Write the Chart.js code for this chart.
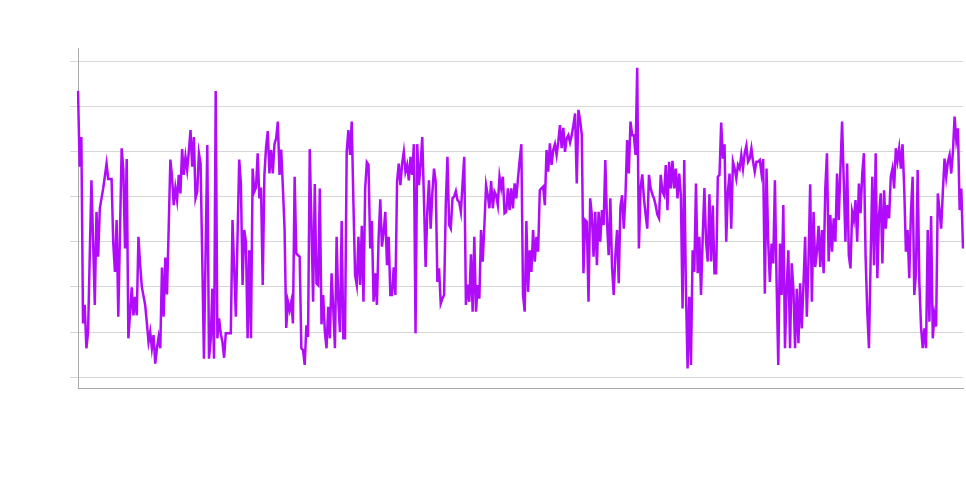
<!DOCTYPE html>
<html>
<head>
<meta charset="utf-8">
<script src="https://cdn.jsdelivr.net/npm/chart.js@4"></script>
<style>
html, body { margin: 0; padding: 0; background: #fff; }
</style>
</head>
<body>
<canvas id="grafico" width="966" height="504"></canvas>
<script>
// valores, de izquierda a derecha
var valores = [
	// tramo 1
	6.34, 4.66, 5.32, 1.19, 1.6, 0.64, 1.0, 2.7, 4.36, 3.0, 1.6, 3.66, 2.67, 3.74, 3.96, 4.18, 4.45, 4.73, 4.39, 4.39, 4.39,
	2.96, 2.33, 3.48, 1.34, 3.2, 5.07, 4.59, 2.85, 4.83, 0.86, 1.4, 1.99, 1.37, 1.78, 1.37, 3.11, 2.5, 2.0, 1.8, 1.6, 1.2,
	0.78, 1.0, 0.64, 0.93, 0.30, 0.64, 0.89, 0.64, 2.43, 1.34, 2.65, 1.83, 3.3, 4.82, 4.44, 3.81, 4.19, 3.92, 4.48, 4.07,
	5.05, 4.48, 4.88, 4.59, 5.0, 5.47, 4.66, 5.32, 3.96, 4.11, 4.96, 4.73, 2.6, 0.41, 2.8, 5.14, 0.41, 0.82, 1.96, 0.41,
	6.34, 0.86, 1.3, 0.97, 0.78, 0.43, 0.97, 0.97, 0.97, 0.97, 3.48, 2.4, 1.34, 3.1, 4.82, 4.29, 2.04, 3.26, 3.0, 0.86, 2.81,
	0.86, 4.62, 4.11,
	// tramo 2
	4.2, 4.96, 3.96, 4.2, 2.04, 4.48, 5.1, 5.45, 4.51, 5.03, 4.51, 5.16, 5.29, 5.66, 4.48, 5.04, 4.2, 3.29, 1.09, 1.67, 1.48,
	1.67, 1.19, 4.44, 2.74, 2.7, 2.67, 0.64, 0.6, 0.27, 1.15, 0.89, 5.05, 3.44, 1.67, 4.28, 2.08, 2.04, 4.18, 1.17, 1.82,
	1.0, 0.64, 1.56, 0.86, 2.3, 1.52, 0.64, 3.11, 1.67, 1.0, 3.46, 0.86, 0.86, 4.99, 5.47, 4.92, 5.66, 3.88, 2.26, 2.04,
	3.11, 2.04, 3.35, 1.67, 4.18, 4.76, 4.7, 2.85, 3.46, 1.67, 2.3, 1.6, 3.07, 3.94, 2.89, 3.22, 3.66, 2.48, 3.11, 1.82,
	1.82, 2.43, 1.82, 4.33, 4.73, 4.25, 4.73, 4.99, 4.55, 4.7, 4.36, 4.88, 4.48, 5.16, 0.97, 5.16, 4.25, 4.7, 5.32, 3.96,
	2.44, 3.66, 4.36, 3.29, 4.07,
	// tramo 3
	4.62, 4.33, 2.11, 2.41, 1.63, 1.74, 1.82, 3.81, 4.88, 3.37, 3.29, 3.96, 4.0, 4.12, 3.92, 3.88, 3.66, 4.3, 4.88, 1.6, 2.05,
	1.67, 2.72, 1.45, 3.11, 1.45, 2.04, 1.74, 3.26, 2.56, 3.37, 4.25, 4.03, 3.74, 4.34, 3.74, 4.11, 4.03, 3.81, 4.44, 4.19,
	4.44, 3.63, 3.66, 4.18, 3.7, 4.18, 3.74, 4.29, 3.96, 4.4, 4.8, 5.16, 1.82, 1.45, 3.46, 1.89, 2.81, 2.33, 3.26, 2.56,
	3.11, 2.78, 4.14, 4.18, 4.22, 3.81, 5.03, 4.55, 5.18, 4.7, 5.03, 5.16, 4.92, 5.21, 5.58, 5.07, 5.52, 4.99, 5.29, 5.36,
	5.2, 5.36, 5.58, 5.84, 4.29, 5.92, 5.69, 5.36, 2.3, 3.48, 3.44, 1.67, 3.96, 3.59, 2.67, 3.66, 2.48, 3.66, 3.0, 3.7,
	3.37, 4.81, 3.44, 2.7, 3.96,
	// tramo 4
	2.44, 1.82, 2.7, 3.26, 2.08, 3.77, 4.03, 3.29, 4.0, 5.25, 4.51, 5.66, 5.36, 5.36, 4.92, 6.85, 2.85, 4.18, 4.49, 3.96,
	3.6, 3.29, 4.48, 4.18, 4.05, 3.96, 3.8, 3.6, 3.52, 4.48, 4.11, 4.03, 4.7, 3.7, 4.77, 4.18, 4.79, 4.18, 4.62,
	3.96, 4.51, 4.03, 1.52, 4.81, 1.96, 0.19, 1.78, 0.27, 2.81, 2.33, 4.29, 2.3, 3.11, 1.82, 3.1, 4.19, 3.0, 2.56, 4.05,
	2.56, 3.8, 2.3, 2.3, 4.44, 4.48, 5.64, 4.84, 5.16, 3.0, 4.11, 4.51, 3.29, 4.77, 4.62, 4.4, 4.7, 4.62, 4.92, 4.62,
	4.96, 5.13, 4.77, 4.84, 5.07, 4.77, 4.55, 4.77, 4.77, 4.81, 4.51, 4.83, 1.85, 4.62, 3.0, 2.11, 2.96, 2.52, 4.36, 2.11,
	0.27, 2.96, 1.82, 3.81, 0.64, 1.96, 2.81,
	// tramo 5
	0.64, 2.52, 1.96, 0.64, 1.96, 0.75, 2.08, 1.08, 2.04, 3.11, 1.34, 2.56, 4.27, 1.67, 3.66, 2.44, 2.78, 3.35, 2.44, 3.26,
	2.3, 4.18, 4.96, 2.56, 3.59, 2.78, 3.52, 3.0, 4.51, 3.48, 4.59, 5.66, 4.33, 3.0, 4.73, 2.7, 2.41, 3.66, 3.48,
	3.92, 3.0, 4.29, 3.63, 4.51, 4.96, 2.67, 1.45, 0.64, 2.63, 4.44, 2.48, 4.96, 2.19, 3.59, 4.07, 2.52, 4.14,
	3.29, 3.81, 3.52, 4.44, 4.62, 4.18, 5.07, 4.79, 5.07, 4.62, 5.16, 4.18, 2.78, 3.26, 2.19, 3.66, 4.44, 1.82, 2.3, 4.59,
	2.11, 1.12, 0.64, 1.08, 0.64, 3.26, 1.23, 3.57, 0.86, 1.37, 1.12, 4.07, 3.7, 3.29, 4.11, 4.84, 4.44, 4.77,
	4.92, 4.51, 4.99, 5.77, 5.25, 5.51, 3.7, 4.18, 2.85
];
var etiquetas = valores.map(function (v, i) { return i + 1; });
var marcasY = [0, 1, 2, 3, 4, 5, 6, 7];

var ctx = document.getElementById("grafico").getContext('2d');
window.grafica = new Chart(ctx, {
	type: 'line',
	data: {
		labels: etiquetas,
		datasets: [{
			data: valores,
			borderColor: '#b10cf9',
			borderWidth: 2.5,
			pointRadius: 0,
			tension: 0,
			fill: false
		}]
	},
	options: {
		responsive: false,
		animation: false,
		layout: { padding: { left: 70, top: 48, right: 3, bottom: 116 } },
		scales: {
			x: {
				ticks: { display: false },
				grid: { display: false, drawTicks: false },
				border: { display: true, color: '#a8a8a8' }
			},
			y: {
				min: -0.24,
				max: 7.29,
				afterBuildTicks: function (axis) {
					axis.ticks = marcasY.map(function (v) { return { value: v }; });
				},
				ticks: { display: false },
				grid: { color: '#d6d6d6', tickLength: 8 },
				border: { color: '#a8a8a8' }
			}
		},
		plugins: {
			legend: { display: false },
			tooltip: { enabled: false }
		}
	}
});
</script>
</body>
</html>
